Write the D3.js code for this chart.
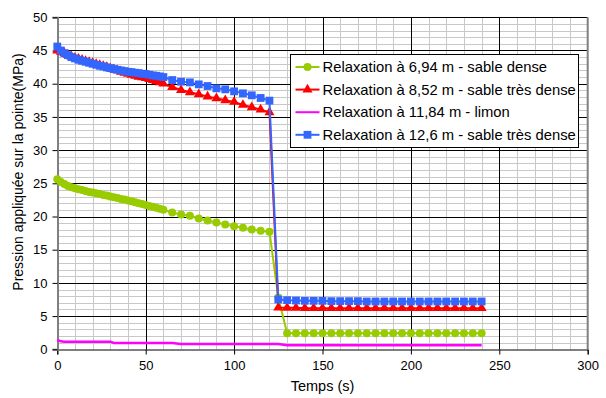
<!DOCTYPE html>
<html>
<head>
<meta charset="utf-8">
<script src="https://cdn.jsdelivr.net/npm/d3@7"></script>
<style>
  html, body { margin: 0; padding: 0; background: #fff; }
  svg { display: block; font-family: "Liberation Sans", Arial, sans-serif; }
</style>
</head>
<body>
<svg id="chart" width="606" height="398"></svg>
<script>
// ---- Data ----
const times = [0,2,4,6,8,10,12,14,16,18,20,22,24,26,28,30,32,34,36,38,40,42,44,46,48,50,52,54,56,58,
  60,65,70,75,80,85,90,95,100,105,110,115,120,125,
  130,135,140,145,150,155,160,165,170,175,180,185,190,195,200,205,210,215,220,225,230,235,240];

const seriesNames = [
  "Relaxation à 6,94 m - sable dense",
  "Relaxation à 8,52 m - sable très dense",
  "Relaxation à 11,84 m - limon",
  "Relaxation à 12,6 m - sable très dense"
];

const green = [25.6,25.2,24.9,24.6,24.4,24.25,24.1,24.0,23.85,23.7,23.6,23.5,23.4,23.25,23.15,23.0,22.9,22.8,22.65,22.55,22.4,22.3,22.15,22.0,21.9,21.75,21.6,21.45,21.3,21.15,
  21.0,20.6,20.3,20.1,19.7,19.4,19.1,18.8,18.55,18.3,18.05,17.85,17.7,7.8,
  2.4,2.4,2.4,2.4,2.4,2.4,2.4,2.4,2.4,2.4,2.4,2.4,2.4,2.4,2.4,2.4,2.4,2.4,2.4,2.4,2.4,2.4,2.4];

const red = [45.0,44.8,44.6,44.35,44.1,43.9,43.75,43.6,43.4,43.25,43.1,42.95,42.8,42.65,42.5,42.3,42.15,42.0,41.8,41.65,41.5,41.35,41.2,41.05,40.95,40.85,40.7,40.55,40.4,40.2,
  40.0,39.5,39.05,38.7,38.4,38.05,37.8,37.5,37.25,36.8,36.45,36.1,35.7,6.3,
  6.25,6.25,6.2,6.2,6.2,6.2,6.2,6.2,6.2,6.2,6.2,6.2,6.2,6.2,6.2,6.2,6.2,6.2,6.2,6.2,6.2,6.2,6.2];

const magenta = [1.4,1.2,1.15,1.15,1.15,1.15,1.15,1.15,1.15,1.15,1.15,1.15,1.15,1.15,1.15,1.15,
  0.95,0.95,0.95,0.95,0.95,0.95,0.95,0.95,0.95,0.95,0.95,0.95,0.95,0.95,
  0.95,0.95,0.8,0.8,0.8,0.8,0.8,0.8,0.8,0.8,0.8,0.8,0.8,0.8,
  0.6,0.6,0.6,0.6,0.6,0.6,0.6,0.6,0.6,0.6,0.6,0.6,0.6,0.6,0.6,0.6,0.6,0.6,0.6,0.6,0.6,0.6,0.6];

const blue = [45.6,45.0,44.6,44.3,44.0,43.8,43.6,43.45,43.3,43.15,43.0,42.85,42.7,42.6,42.45,42.35,42.2,42.1,42.0,41.9,41.8,41.75,41.65,41.6,41.5,41.45,41.35,41.25,41.2,41.1,
  41.0,40.55,40.3,40.2,39.9,39.65,39.3,39.15,38.85,38.55,38.25,37.85,37.45,7.5,
  7.4,7.35,7.3,7.3,7.3,7.25,7.25,7.25,7.25,7.2,7.2,7.2,7.2,7.2,7.2,7.2,7.2,7.2,7.2,7.2,7.2,7.2,7.2];

const xTicks = [0,50,100,150,200,250,300];
const yTicks = [0,5,10,15,20,25,30,35,40,45,50];
const xTitle = "Temps (s)";
const yTitle = "Pression appliquée sur la pointe(MPa)";

// ---- Layout ----
const svg = d3.select("#chart");
const x = d3.scaleLinear().domain([0, 300]).range([57.3, 587.7]);
const y = d3.scaleLinear().domain([0, 50]).range([349.3, 17.3]);

const series = [
  { name: seriesNames[0], values: green,   color: "#99CC00", marker: "circle" },
  { name: seriesNames[1], values: red,     color: "#FF0000", marker: "triangle" },
  { name: seriesNames[2], values: magenta, color: "#FF00FF", marker: null },
  { name: seriesNames[3], values: blue,    color: "#3366FF", marker: "square" }
];

// grid: minor
const g = svg.append("g");
g.selectAll("line.vminor").data(d3.range(0, 301, 10).filter(v => v % 50 !== 0)).enter()
  .append("line").attr("x1", d => Math.round(x(d)) + 0.5).attr("x2", d => Math.round(x(d)) + 0.5)
  .attr("y1", y(50)).attr("y2", y(0)).attr("stroke", "#c8c8c8").attr("stroke-width", 1);
g.selectAll("line.hminor").data(d3.range(0, 51, 1).filter(v => v % 5 !== 0)).enter()
  .append("line").attr("y1", d => Math.round(y(d)) + 0.5).attr("y2", d => Math.round(y(d)) + 0.5)
  .attr("x1", x(0)).attr("x2", x(300)).attr("stroke", "#c8c8c8").attr("stroke-width", 1);
// grid: major
g.selectAll("line.vmajor").data(xTicks.filter(v => v > 0 && v < 300)).enter()
  .append("line").attr("x1", d => Math.round(x(d)) + 0.5).attr("x2", d => Math.round(x(d)) + 0.5)
  .attr("y1", y(50)).attr("y2", y(0)).attr("stroke", "#000").attr("stroke-width", 1);
g.selectAll("line.hmajor").data(yTicks.filter(v => v > 0)).enter()
  .append("line").attr("y1", d => Math.round(y(d)) + 0.5).attr("y2", d => Math.round(y(d)) + 0.5)
  .attr("x1", x(0)).attr("x2", x(300)).attr("stroke", "#000").attr("stroke-width", 1);
// right border
g.append("line").attr("x1", x(300)).attr("x2", x(300)).attr("y1", y(50)).attr("y2", y(0))
  .attr("stroke", "#808080").attr("stroke-width", 2);

// axes
const xAxis = d3.axisBottom(x).tickValues(xTicks).tickSize(5).tickPadding(6).tickFormat(d3.format("d"));
const yAxis = d3.axisLeft(y).tickValues(yTicks).tickSize(5).tickPadding(5).tickFormat(d3.format("d"));
const gx = svg.append("g").attr("transform", `translate(0,${Math.round(y(0)) + 0.5})`).call(xAxis);
const gy = svg.append("g").attr("transform", `translate(${Math.round(x(0)) + 0.5},0)`).call(yAxis);
[gx, gy].forEach(a => {
  a.select(".domain").attr("stroke", "#000").attr("stroke-width", 1);
  a.selectAll(".tick line").attr("stroke", "#000");
  a.selectAll(".tick text").attr("fill", "#000").style("font-size", "13px")
   .style("font-family", "'Liberation Sans', Arial, sans-serif");
});
gy.select(".domain").attr("stroke", "#808080").attr("stroke-width", 2);

// titles
svg.append("text").attr("x", 322.5).attr("y", 391).attr("text-anchor", "middle")
  .style("font-size", "14.5px").attr("fill", "#000").text(xTitle);
svg.append("text").attr("transform", "translate(23,172) rotate(-90)").attr("text-anchor", "middle")
  .style("font-size", "14px").attr("fill", "#000").text(yTitle);

// series
const line = d3.line().x(d => x(d[0])).y(d => y(d[1]));
const triangle = d3.symbol().type(d3.symbolTriangle).size(44);
function drawMarker(sel, type, color) {
  if (type === "circle") {
    sel.append("circle").attr("r", 4).attr("fill", color);
  } else if (type === "square") {
    sel.append("rect").attr("x", -3.9).attr("y", -3.9).attr("width", 7.8).attr("height", 7.8).attr("fill", color);
  } else if (type === "triangle") {
    sel.append("path").attr("d", triangle()).attr("fill", color);
  }
}

series.forEach(s => {
  const pts = times.map((t, i) => [t, s.values[i]]);
  const sg = svg.append("g");
  sg.append("path").datum(pts).attr("d", line).attr("fill", "none")
    .attr("stroke", s.color).attr("stroke-width", s.marker ? 2 : 2.5);
  if (s.marker) {
    sg.selectAll("g.m").data(pts).enter().append("g")
      .attr("transform", d => `translate(${x(d[0])},${y(d[1])})`)
      .each(function() { drawMarker(d3.select(this), s.marker, s.color); });
  }
});

// legend
const lg = svg.append("g").attr("transform", "translate(290.5,54.5)");
lg.append("rect").attr("width", 288).attr("height", 93).attr("fill", "#fff")
  .attr("stroke", "#000").attr("stroke-width", 1);
series.forEach((s, i) => {
  const row = lg.append("g").attr("transform", `translate(0,${12.5 + i * 22.6})`);
  row.append("line").attr("x1", 5).attr("x2", 29).attr("y1", 0).attr("y2", 0)
    .attr("stroke", s.color).attr("stroke-width", 2);
  const m = row.append("g").attr("transform", "translate(17,0)");
  drawMarker(m, s.marker, s.color);
  row.append("text").attr("x", 32).attr("y", 0).attr("dy", "0.35em")
    .style("font-size", "14.8px").attr("fill", "#000").text(s.name);
});
</script>
</body>
</html>
